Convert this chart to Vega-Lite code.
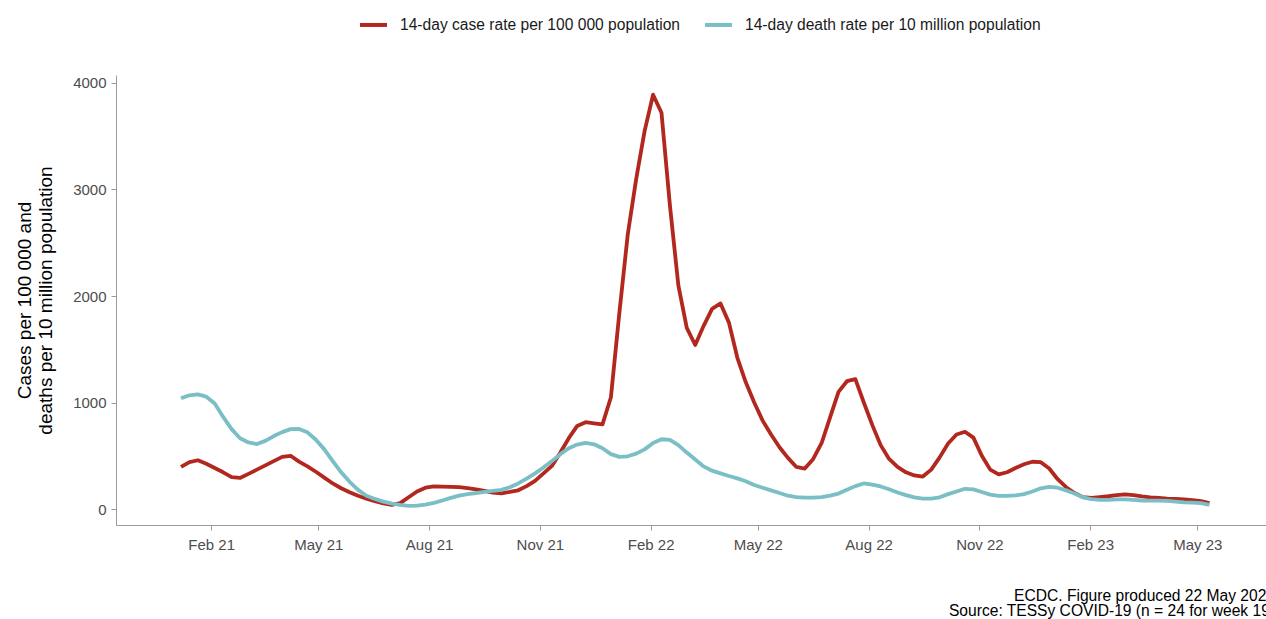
{
  "$schema": "https://vega.github.io/schema/vega-lite/v6.json",
  "width": 1150,
  "height": 450,
  "autosize": {"type": "none"},
  "padding": {"left": 116, "top": 75, "right": 0, "bottom": 94},
  "background": "white",
  "config": {
    "view": {"stroke": null},
    "font": "Liberation Sans",
    "axis": {
      "domainColor": "#9a9a9a",
      "tickColor": "#9a9a9a",
      "labelColor": "#4d4d4d",
      "labelFont": "Liberation Sans",
      "labelFontSize": 15,
      "tickSize": 5,
      "grid": false
    }
  },
  "title": {
    "text": ["ECDC. Figure produced 22 May 2023", "Source: TESSy COVID-19 (n = 24 for week 19)"],
    "orient": "bottom",
    "anchor": "end",
    "align": "right",
    "frame": "group",
    "dx": 9,
    "offset": 37,
    "fontSize": 15.6,
    "fontWeight": "normal",
    "lineHeight": 14.5,
    "color": "#000000"
  },
  "data": {
    "values": [
      {"d": "2021-01-07", "case": 395, "death": 1040},
      {"d": "2021-01-14", "case": 440, "death": 1068},
      {"d": "2021-01-21", "case": 458, "death": 1077},
      {"d": "2021-01-28", "case": 425, "death": 1055},
      {"d": "2021-02-04", "case": 385, "death": 990},
      {"d": "2021-02-11", "case": 345, "death": 865},
      {"d": "2021-02-18", "case": 300, "death": 750},
      {"d": "2021-02-25", "case": 292, "death": 665},
      {"d": "2021-03-04", "case": 330, "death": 625},
      {"d": "2021-03-11", "case": 370, "death": 610},
      {"d": "2021-03-18", "case": 410, "death": 640},
      {"d": "2021-03-25", "case": 450, "death": 685},
      {"d": "2021-04-01", "case": 490, "death": 722},
      {"d": "2021-04-08", "case": 500, "death": 750},
      {"d": "2021-04-15", "case": 445, "death": 752},
      {"d": "2021-04-22", "case": 400, "death": 720},
      {"d": "2021-04-29", "case": 350, "death": 650},
      {"d": "2021-05-06", "case": 295, "death": 560},
      {"d": "2021-05-13", "case": 240, "death": 450},
      {"d": "2021-05-20", "case": 195, "death": 345},
      {"d": "2021-05-27", "case": 158, "death": 255},
      {"d": "2021-06-03", "case": 125, "death": 180},
      {"d": "2021-06-10", "case": 97, "death": 125},
      {"d": "2021-06-17", "case": 73, "death": 95},
      {"d": "2021-06-24", "case": 52, "death": 70},
      {"d": "2021-07-01", "case": 40, "death": 50},
      {"d": "2021-07-08", "case": 55, "death": 38},
      {"d": "2021-07-15", "case": 110, "death": 30},
      {"d": "2021-07-22", "case": 165, "death": 32},
      {"d": "2021-07-29", "case": 200, "death": 42},
      {"d": "2021-08-05", "case": 212, "death": 58},
      {"d": "2021-08-12", "case": 210, "death": 80},
      {"d": "2021-08-19", "case": 208, "death": 105},
      {"d": "2021-08-26", "case": 205, "death": 125},
      {"d": "2021-09-02", "case": 196, "death": 140},
      {"d": "2021-09-09", "case": 184, "death": 150},
      {"d": "2021-09-16", "case": 170, "death": 160},
      {"d": "2021-09-23", "case": 155, "death": 170},
      {"d": "2021-09-30", "case": 148, "death": 180},
      {"d": "2021-10-07", "case": 160, "death": 205},
      {"d": "2021-10-14", "case": 176, "death": 240},
      {"d": "2021-10-21", "case": 215, "death": 285},
      {"d": "2021-10-28", "case": 265, "death": 335},
      {"d": "2021-11-04", "case": 335, "death": 390},
      {"d": "2021-11-11", "case": 405, "death": 450},
      {"d": "2021-11-18", "case": 530, "death": 515},
      {"d": "2021-11-25", "case": 665, "death": 570},
      {"d": "2021-12-02", "case": 780, "death": 605},
      {"d": "2021-12-09", "case": 815, "death": 620},
      {"d": "2021-12-16", "case": 805, "death": 608},
      {"d": "2021-12-23", "case": 795, "death": 570},
      {"d": "2021-12-30", "case": 1050, "death": 515},
      {"d": "2022-01-06", "case": 1840, "death": 490},
      {"d": "2022-01-13", "case": 2580, "death": 495},
      {"d": "2022-01-20", "case": 3100, "death": 520},
      {"d": "2022-01-27", "case": 3550, "death": 560},
      {"d": "2022-02-03", "case": 3890, "death": 620},
      {"d": "2022-02-10", "case": 3720, "death": 655},
      {"d": "2022-02-17", "case": 2850, "death": 650},
      {"d": "2022-02-24", "case": 2100, "death": 600},
      {"d": "2022-03-03", "case": 1700, "death": 530},
      {"d": "2022-03-10", "case": 1540, "death": 465},
      {"d": "2022-03-17", "case": 1720, "death": 400},
      {"d": "2022-03-24", "case": 1880, "death": 360},
      {"d": "2022-03-31", "case": 1930, "death": 335},
      {"d": "2022-04-07", "case": 1750, "death": 310},
      {"d": "2022-04-14", "case": 1420, "death": 288},
      {"d": "2022-04-21", "case": 1190, "death": 260},
      {"d": "2022-04-28", "case": 1000, "death": 225},
      {"d": "2022-05-05", "case": 830, "death": 200},
      {"d": "2022-05-12", "case": 700, "death": 175},
      {"d": "2022-05-19", "case": 580, "death": 150},
      {"d": "2022-05-26", "case": 480, "death": 125},
      {"d": "2022-06-02", "case": 395, "death": 112},
      {"d": "2022-06-09", "case": 380, "death": 107},
      {"d": "2022-06-16", "case": 470, "death": 107},
      {"d": "2022-06-23", "case": 620, "death": 112},
      {"d": "2022-06-30", "case": 860, "death": 125},
      {"d": "2022-07-07", "case": 1100, "death": 145},
      {"d": "2022-07-14", "case": 1200, "death": 180},
      {"d": "2022-07-21", "case": 1220, "death": 215},
      {"d": "2022-07-28", "case": 1000, "death": 240},
      {"d": "2022-08-04", "case": 790, "death": 230},
      {"d": "2022-08-11", "case": 600, "death": 212},
      {"d": "2022-08-18", "case": 470, "death": 185},
      {"d": "2022-08-25", "case": 395, "death": 155},
      {"d": "2022-09-01", "case": 345, "death": 130},
      {"d": "2022-09-08", "case": 315, "death": 110},
      {"d": "2022-09-15", "case": 305, "death": 98},
      {"d": "2022-09-22", "case": 370, "death": 97},
      {"d": "2022-09-29", "case": 485, "death": 110},
      {"d": "2022-10-06", "case": 615, "death": 140},
      {"d": "2022-10-13", "case": 700, "death": 165},
      {"d": "2022-10-20", "case": 725, "death": 190},
      {"d": "2022-10-27", "case": 670, "death": 185},
      {"d": "2022-11-03", "case": 500, "death": 160},
      {"d": "2022-11-10", "case": 370, "death": 135},
      {"d": "2022-11-17", "case": 325, "death": 124},
      {"d": "2022-11-24", "case": 345, "death": 123},
      {"d": "2022-12-01", "case": 385, "death": 128},
      {"d": "2022-12-08", "case": 420, "death": 140},
      {"d": "2022-12-15", "case": 444, "death": 165},
      {"d": "2022-12-22", "case": 440, "death": 195},
      {"d": "2022-12-29", "case": 380, "death": 208},
      {"d": "2023-01-05", "case": 280, "death": 200},
      {"d": "2023-01-12", "case": 205, "death": 175},
      {"d": "2023-01-19", "case": 150, "death": 145},
      {"d": "2023-01-26", "case": 112, "death": 110},
      {"d": "2023-02-02", "case": 105, "death": 92},
      {"d": "2023-02-09", "case": 112, "death": 85},
      {"d": "2023-02-16", "case": 120, "death": 85},
      {"d": "2023-02-23", "case": 130, "death": 90},
      {"d": "2023-03-02", "case": 138, "death": 90},
      {"d": "2023-03-09", "case": 130, "death": 85},
      {"d": "2023-03-16", "case": 118, "death": 80},
      {"d": "2023-03-23", "case": 110, "death": 78},
      {"d": "2023-03-30", "case": 104, "death": 78},
      {"d": "2023-04-06", "case": 98, "death": 76},
      {"d": "2023-04-13", "case": 94, "death": 70},
      {"d": "2023-04-20", "case": 90, "death": 63},
      {"d": "2023-04-27", "case": 84, "death": 60},
      {"d": "2023-05-04", "case": 74, "death": 56},
      {"d": "2023-05-11", "case": 55, "death": 38}
    ]
  },
  "transform": [{"fold": ["case", "death"], "as": ["series", "value"]}],
  "mark": {"type": "line", "strokeWidth": 3.8, "strokeCap": "butt", "strokeJoin": "round"},
  "encoding": {
    "x": {
      "field": "d",
      "type": "temporal",
      "scale": {
        "type": "utc",
        "domain": [
          {"year": 2020, "month": 11, "date": 14, "utc": true},
          {"year": 2023, "month": 6, "date": 27, "utc": true}
        ]
      },
      "axis": {
        "title": null,
        "format": "%b %y",
        "labelPadding": 7,
        "labelFlush": false,
        "values": [
          {"year": 2021, "month": 2, "date": 1, "utc": true},
          {"year": 2021, "month": 5, "date": 1, "utc": true},
          {"year": 2021, "month": 8, "date": 1, "utc": true},
          {"year": 2021, "month": 11, "date": 1, "utc": true},
          {"year": 2022, "month": 2, "date": 1, "utc": true},
          {"year": 2022, "month": 5, "date": 1, "utc": true},
          {"year": 2022, "month": 8, "date": 1, "utc": true},
          {"year": 2022, "month": 11, "date": 1, "utc": true},
          {"year": 2023, "month": 2, "date": 1, "utc": true},
          {"year": 2023, "month": 5, "date": 1, "utc": true}
        ]
      }
    },
    "y": {
      "field": "value",
      "type": "quantitative",
      "scale": {"domain": [-150, 4075], "nice": false, "zero": false},
      "axis": {
        "values": [0, 1000, 2000, 3000, 4000],
        "format": "d",
        "labelPadding": 5,
        "title": ["Cases per 100 000 and", "deaths per 10 million population"],
        "titleFontSize": 19,
        "titleFontWeight": "normal",
        "titleColor": "#000000",
        "titleLineHeight": 21,
        "titlePadding": 17
      }
    },
    "color": {
      "field": "series",
      "type": "nominal",
      "scale": {"domain": ["case", "death"], "range": ["#B2281E", "#7ABEC6"]},
      "legend": {
        "orient": "none",
        "legendX": 242,
        "legendY": -66,
        "direction": "horizontal",
        "title": null,
        "symbolType": "stroke",
        "symbolStrokeWidth": 4,
        "symbolSize": 729,
        "labelFontSize": 15.6,
        "labelColor": "#1a1a1a",
        "labelOffset": 11,
        "labelLimit": 0,
        "columnPadding": 16,
        "labelExpr": "datum.label == 'case' ? '14-day case rate per 100 000 population' : '14-day death rate per 10 million population'"
      }
    }
  }
}
